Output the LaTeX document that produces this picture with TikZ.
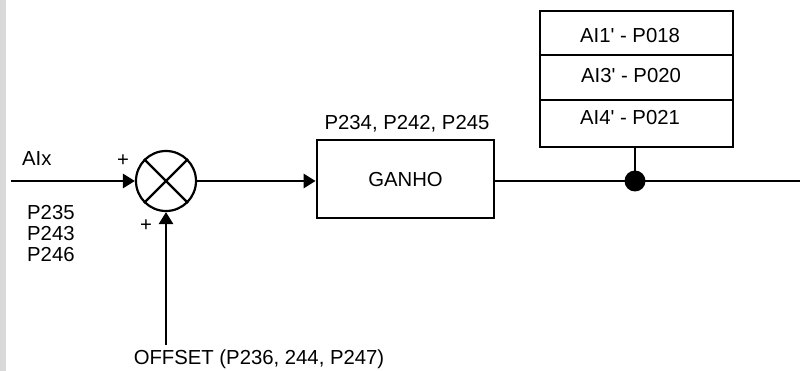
\documentclass[tikz,border=0pt]{standalone}
\usepackage{fontspec}
\setmainfont{Liberation Sans}
\usetikzlibrary{arrows.meta}
\begin{document}
\begin{tikzpicture}[x=1pt,y=-1pt,
  txt/.style={inner sep=0pt,font=\fontsize{20.3}{24}\selectfont},
  wire/.style={line width=2.8pt},
  arr/.style={wire,-{Triangle[length=12pt,width=14pt]}},
  thin/.style={line width=2.2pt},
  blk/.style={draw,line width=2.8pt,minimum width=177pt,minimum height=78pt,inner sep=0pt}]
\useasboundingbox (0,0) rectangle (801,371);
\fill[gray!30] (0,0) rectangle (6,371);
% input
\coordinate (in) at (11,181);
\node[txt,anchor=base west] (aix) at (22,166) {AIx};
\node[txt,anchor=base west] (p1) at (27,220) {P235};
\node[txt,anchor=base west] (p2) at (27,241) {P243};
\node[txt,anchor=base west] (p3) at (27,262) {P246};
% summing junction
\node[draw,circle,thin,minimum size=60pt,inner sep=0pt] (sum) at (166,181) {};
\draw[thin] (sum.45) -- (sum.225) (sum.135) -- (sum.315);
\node[txt] (plus1) at (123,161) {+};
\node[txt] (plus2) at (146,226) {+};
\coordinate (off) at (166,345);
\node[txt,anchor=base] (offset) at (259,365) {OFFSET (P236, 244, P247)};
\draw[arr] (in) -- (sum.west);
\draw[arr] (off) -- (sum.south);
% gain block
\node[blk] (gain) at (405.5,179) {};
\node[txt] (gainlbl) at (405.5,180) {GANHO};
\node[txt,anchor=base] (gparams) at (407,130) {P234, P242, P245};
\draw[arr] (sum.east) -- (gain.west |- sum.east);
% table
\node[draw,thin,minimum width=193pt,minimum height=136pt,inner sep=0pt,anchor=north west] (tab) at (539,10) {};
\draw[thin] (539,55) -- (732,55) (539,100) -- (732,100);
\node[txt] (r1) at (630,36) {AI1\textquotesingle{} - P018};
\node[txt] (r2) at (631,76) {AI3\textquotesingle{} - P020};
\node[txt] (r3) at (630,118) {AI4\textquotesingle{} - P021};
% output
\coordinate (out) at (800,181);
\fill (635,181) circle (10.5pt) coordinate (dot);
\draw[wire] (gain.east |- out) -- (out);
\draw[thin] (tab.south -| dot) -- (dot);
\end{tikzpicture}
\end{document}
